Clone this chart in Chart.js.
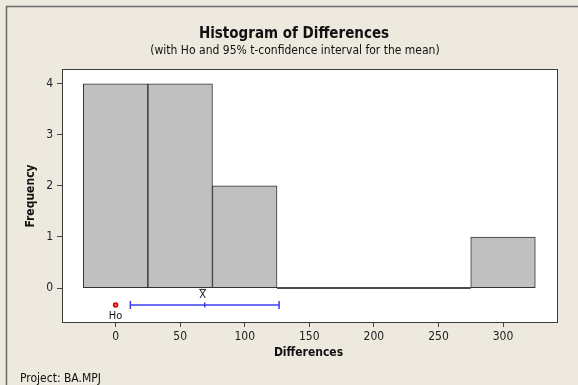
<!DOCTYPE html>
<html>
<head>
<meta charset="utf-8">
<script src="https://cdn.jsdelivr.net/npm/chart.js@4/dist/chart.umd.min.js"></script>
<style>
  html, body { margin: 0; padding: 0; background: #EDE9DF; }
  canvas { display: block; }
</style>
</head>
<body>
<canvas id="c" width="578" height="385"></canvas>
<script>
// ---- data ----
const binCenters = [0, 50, 100, 150, 200, 250, 300];
const counts = [4, 4, 2, 0, 0, 0, 1];
const binWidth = 50;
const xTicks = [0, 50, 100, 150, 200, 250, 300];
const yTicks = [0, 1, 2, 3, 4];
const hoValue = 0;
const meanValue = 69;
const ciLow = 11.4;
const ciHigh = 126.6;
const intervalRow = -0.33;

const FONT = "'DejaVu Sans Condensed', 'Liberation Sans', Arial, sans-serif";

const barData = binCenters.map((c, i) => ({ x: c, y: counts[i] }));
const zeroLine = [];
binCenters.forEach((c, i) => {
  if (counts[i] === 0) {
    zeroLine.push({ x: c - binWidth / 2, y: 0 });
    zeroLine.push({ x: c + binWidth / 2, y: 0 });
  } else {
    zeroLine.push({ x: c, y: null });
  }
});

const framePlugin = {
  id: 'frame',
  beforeDraw(chart) {
    const ctx = chart.ctx, a = chart.chartArea;
    ctx.save();
    ctx.fillStyle = '#EDE9DF';
    ctx.fillRect(0, 0, chart.width, chart.height);
    ctx.strokeStyle = '#6a6a6a';
    ctx.lineWidth = 1.5;
    ctx.beginPath();
    ctx.moveTo(6.5, chart.height + 2);
    ctx.lineTo(6.5, 6.5);
    ctx.lineTo(chart.width + 2, 6.5);
    ctx.stroke();
    ctx.fillStyle = '#FFFFFF';
    ctx.fillRect(a.left, a.top, a.right - a.left, a.bottom - a.top);
    ctx.restore();
  },
  afterDraw(chart) {
    const ctx = chart.ctx, a = chart.chartArea;
    const xs = chart.scales.x, ys = chart.scales.y;
    ctx.save();
    ctx.strokeStyle = '#3a3a3a';
    ctx.lineWidth = 1;
    ctx.strokeRect(Math.round(a.left) + 0.5, Math.round(a.top) + 0.5,
                   Math.round(a.right - a.left), Math.round(a.bottom - a.top));
    ctx.fillStyle = '#111';
    ctx.textAlign = 'center';
    ctx.textBaseline = 'middle';
    ctx.font = "bold 15px " + FONT;
    ctx.fillText('Histogram of Differences', 294, 34);
    ctx.font = "12px " + FONT;
    ctx.fillText('(with Ho and 95% t-confidence interval for the mean)', 295, 51);
    ctx.font = "bold 12px " + FONT;
    ctx.fillText('Differences', (a.left + a.right) / 2 - 1, 353);
    ctx.save();
    ctx.translate(31, 196);
    ctx.rotate(-Math.PI / 2);
    ctx.fillText('Frequency', 0, 0);
    ctx.restore();
    ctx.font = "12px " + FONT;
    ctx.textAlign = 'left';
    ctx.fillText('Project: BA.MPJ', 20, 379);
    // Ho label
    ctx.textAlign = 'center';
    ctx.font = "11px " + FONT;
    const hx = xs.getPixelForValue(hoValue);
    const ry = ys.getPixelForValue(intervalRow);
    ctx.fillText('Ho', hx, ry + 11);
    // X-bar label
    const mx = xs.getPixelForValue(meanValue) - 2;
    ctx.fillText('X', mx, ry - 10);
    ctx.strokeStyle = '#222';
    ctx.beginPath();
    ctx.moveTo(mx - 3.5, ry - 15.5);
    ctx.lineTo(mx + 3.5, ry - 15.5);
    ctx.stroke();
    ctx.restore();
  }
};

new Chart(document.getElementById('c'), {
  type: 'bar',
  data: {
    datasets: [
      {
        type: 'bar',
        data: barData,
        backgroundColor: '#C0C0C0',
        borderColor: '#333333',
        borderWidth: 1,
        borderSkipped: false,
        barPercentage: 1,
        categoryPercentage: 1,
        order: 5
      },
      {
        type: 'line',
        data: zeroLine,
        borderColor: '#111',
        borderWidth: 1.5,
        pointRadius: 0,
        spanGaps: false,
        order: 4
      },
      {
        type: 'line',
        data: [{ x: ciLow, y: intervalRow }, { x: ciHigh, y: intervalRow }],
        borderColor: '#3C3CF5',
        borderWidth: 1.5,
        pointStyle: 'line',
        rotation: 90,
        pointRadius: 4,
        pointBorderColor: '#3C3CF5',
        pointBorderWidth: 1.5,
        order: 3
      },
      {
        type: 'line',
        showLine: false,
        data: [{ x: meanValue, y: intervalRow }],
        pointStyle: 'line',
        rotation: 90,
        pointRadius: 2.5,
        pointBorderColor: '#3C3CF5',
        pointBorderWidth: 1.5,
        order: 2
      },
      {
        type: 'line',
        showLine: false,
        data: [{ x: hoValue, y: intervalRow }],
        pointStyle: 'circle',
        pointRadius: 2,
        pointBorderColor: '#E00000',
        pointBackgroundColor: '#FF6060',
        pointBorderWidth: 1.5,
        order: 1
      }
    ]
  },
  options: {
    responsive: false,
    animation: false,
    events: [],
    layout: { padding: { top: 69, right: 21, left: 0, bottom: 0 } },
    plugins: { legend: { display: false }, tooltip: { enabled: false }, title: { display: false } },
    scales: {
      x: {
        type: 'linear',
        offset: false,
        min: -41.5,
        max: 341.8,
        afterFit(s) { s.height = 63; },
        afterBuildTicks(s) { s.ticks = xTicks.map(v => ({ value: v })); },
        grid: { drawOnChartArea: false, tickLength: 5, color: '#444', offset: false },
        border: { display: false },
        ticks: { padding: 3, maxRotation: 0, autoSkip: false, color: '#222', font: { family: FONT, size: 12 } }
      },
      y: {
        type: 'linear',
        min: -0.665,
        max: 4.29,
        afterFit(s) { s.width = 62; },
        afterBuildTicks(s) { s.ticks = yTicks.map(v => ({ value: v })); },
        grid: { drawOnChartArea: false, tickLength: 5, color: '#444' },
        border: { display: false },
        ticks: { padding: 4, autoSkip: false, color: '#222', font: { family: FONT, size: 12 } }
      }
    }
  },
  plugins: [framePlugin]
});
</script>
</body>
</html>
